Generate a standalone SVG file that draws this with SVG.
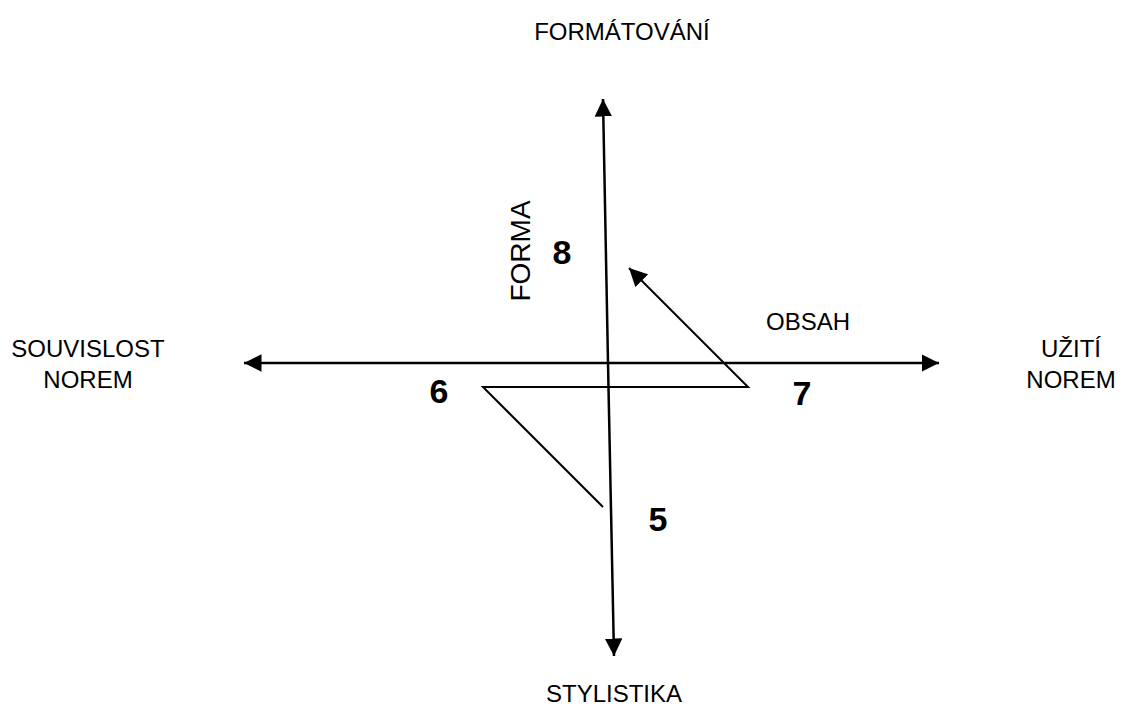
<svg xmlns="http://www.w3.org/2000/svg" width="1127" height="713" viewBox="0 0 1127 713">
<style>
.lbl{font-family:"Liberation Sans",Arial,sans-serif;font-size:24px;fill:#000;text-anchor:middle}
.num{font-family:"Liberation Sans",Arial,sans-serif;font-size:34px;font-weight:bold;fill:#000;text-anchor:middle}
.ln{stroke:#000;stroke-width:2.5;fill:none}
.thin{stroke:#000;stroke-width:2;fill:none}
</style>
<defs>
<marker id="ah" viewBox="0 0 10 10" refX="10" refY="5" markerWidth="7" markerHeight="7" markerUnits="strokeWidth" orient="auto">
<path d="M0,0 L10,5 L0,10 z" fill="#000"/>
</marker>
<marker id="ah2" viewBox="0 0 10 10" refX="10" refY="5" markerWidth="9" markerHeight="9" markerUnits="strokeWidth" orient="auto">
<path d="M0,0 L10,5 L0,10 z" fill="#000"/>
</marker>
</defs>
<g id="connectors">
<line class="ln" x1="608" y1="363" x2="603" y2="99" marker-end="url(#ah)"/>
<line class="ln" x1="608" y1="363" x2="614" y2="656" marker-end="url(#ah)"/>
<line class="ln" x1="600" y1="363" x2="244" y2="363" marker-end="url(#ah)"/>
<line class="ln" x1="600" y1="363" x2="939" y2="363" marker-end="url(#ah)"/>
<polyline class="thin" points="603,507 483,387 748,387 629,268" marker-end="url(#ah2)"/>
</g>
<g id="formatovani"><text class="lbl" x="622" y="40">FORMÁTOVÁNÍ</text></g>
<g id="stylistika"><text class="lbl" x="614" y="702">STYLISTIKA</text></g>
<g id="souvislost"><text class="lbl" x="88" y="357">SOUVISLOST</text><text class="lbl" x="88" y="388">NOREM</text></g>
<g id="uziti"><text class="lbl" x="1071" y="357">UŽITÍ</text><text class="lbl" x="1071" y="388">NOREM</text></g>
<g id="obsah"><text class="lbl" x="808" y="330">OBSAH</text></g>
<g id="forma"><text class="lbl" style="font-size:28px" transform="translate(530,251) rotate(-90)">FORMA</text></g>
<g id="n8"><text class="num" x="562" y="264">8</text></g>
<g id="n6"><text class="num" x="439" y="403">6</text></g>
<g id="n7"><text class="num" x="802" y="405">7</text></g>
<g id="n5"><text class="num" x="658" y="531">5</text></g>
</svg>
